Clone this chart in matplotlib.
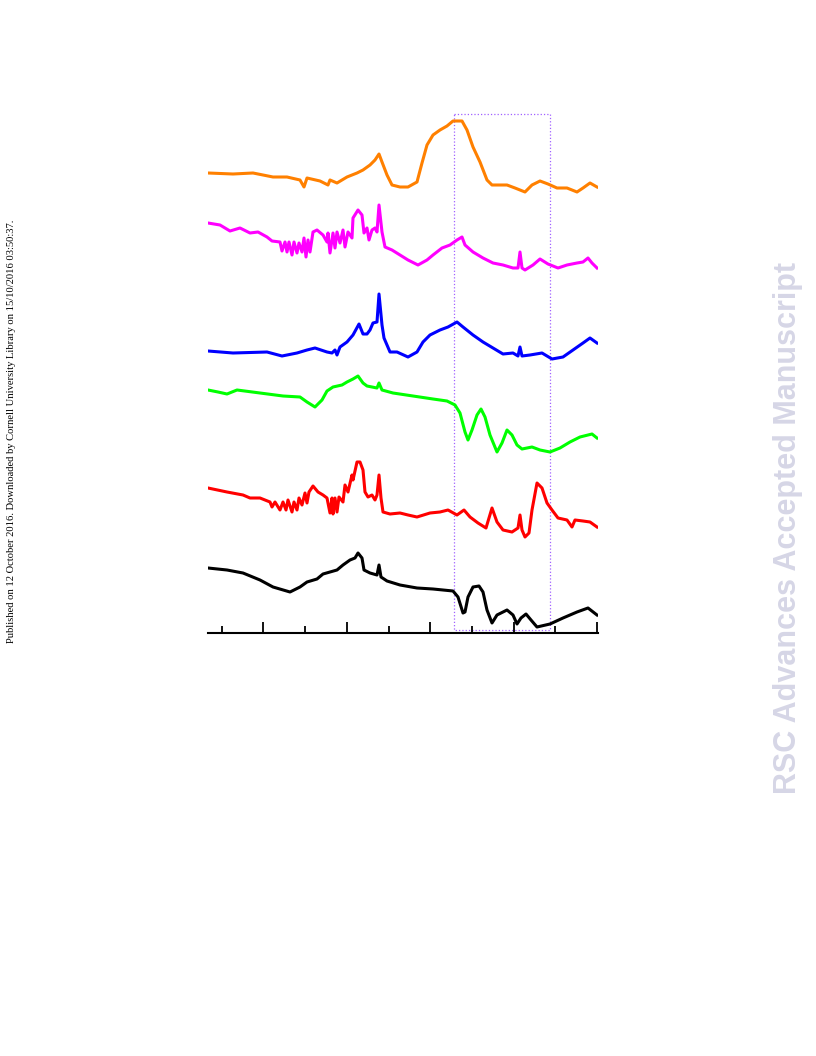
import matplotlib
matplotlib.use("Agg")
import matplotlib.pyplot as plt
from matplotlib.patches import Rectangle

orange = [(208,173),(233,174),(253,173),(273,177),(287,177),(300,180),(304,187),(307,178),(320,181),(328,185),(330,180),(337,183),(347,177),(357,173),(363,170),(370,165),(375,160),(379,154),(382,162),(387,175),(392,185),(400,187),(408,187),(417,182),(422,163),(427,145),(433,135),(440,130),(447,126),(453,121),(462,121),(467,130),(473,147),(480,162),(487,180),(492,185),(500,185),(507,185),(515,188),(525,192),(532,185),(540,181),(548,184),(557,188),(567,188),(577,192),(583,188),(590,183),(597,187)]
magenta = [(208,223),(220,225),(230,231),(240,228),(250,233),(258,232),(267,237),(272,241),(280,242),(282,251),(285,242),(287,252),(289,242),(292,255),(294,242),(297,253),(299,243),(302,252),(304,238),(306,257),(308,240),(310,252),(313,232),(317,230),(323,235),(327,242),(328,233),(330,253),(333,233),(335,248),(337,232),(340,243),(343,230),(345,247),(348,232),(352,238),(353,218),(358,210),(362,215),(364,233),(367,228),(369,240),(372,230),(375,228),(377,232),(379,205),(382,232),(385,247),(392,250),(400,255),(408,260),(418,265),(427,260),(433,255),(442,248),(450,245),(457,240),(462,237),(465,245),(473,252),(483,258),(493,263),(503,265),(513,268),(518,268),(520,252),(522,268),(525,270),(533,265),(540,259),(548,264),(558,268),(567,265),(577,263),(583,262),(588,258),(592,263),(597,268)]
blue = [(208,351),(233,353),(267,352),(282,356),(297,353),(307,350),(315,348),(327,352),(332,353),(335,350),(337,355),(340,347),(347,342),(353,335),(359,324),(363,334),(367,334),(370,330),(373,323),(377,322),(379,294),(382,325),(384,338),(390,352),(397,352),(408,357),(417,352),(423,342),(430,335),(440,330),(448,327),(457,322),(463,327),(473,335),(483,342),(493,348),(503,354),(513,353),(518,356),(520,347),(522,356),(530,355),(542,353),(552,359),(563,357),(573,350),(583,343),(590,338),(597,343)]
green = [(208,390),(218,392),(227,394),(237,390),(260,393),(283,396),(300,397),(307,402),(315,407),(322,400),(327,391),(333,387),(342,385),(347,382),(353,379),(358,376),(363,383),(367,386),(377,388),(379,383),(382,390),(393,393),(413,396),(433,399),(447,401),(455,405),(460,413),(465,432),(468,440),(472,430),(477,415),(481,409),(485,417),(490,435),(497,452),(502,443),(507,430),(512,435),(517,445),(522,449),(532,447),(540,450),(550,452),(560,448),(570,442),(580,437),(592,434),(597,438)]
red = [(208,488),(227,492),(243,495),(250,498),(260,498),(270,502),(272,507),(275,502),(280,510),(283,502),(286,510),(288,500),(292,512),(294,502),(297,510),(299,498),(302,505),(305,493),(307,503),(309,492),(313,486),(318,492),(323,495),(327,498),(330,513),(332,498),(333,514),(335,498),(337,512),(339,497),(343,502),(345,485),(348,492),(352,475),(353,480),(357,462),(360,462),(363,470),(365,492),(368,497),(372,495),(375,500),(377,495),(379,475),(381,498),(383,512),(390,514),(400,513),(408,515),(417,517),(430,513),(440,512),(448,510),(457,515),(464,510),(470,517),(478,523),(486,528),(492,508),(497,522),(503,530),(512,532),(518,528),(520,515),(522,530),(525,537),(529,533),(532,510),(537,483),(542,488),(547,503),(552,510),(558,518),(567,520),(572,527),(575,520),(583,521),(590,522),(597,527)]
black = [(208,568),(227,570),(243,573),(260,580),(273,587),(290,592),(300,587),(307,582),(317,579),(323,574),(330,572),(337,570),(343,565),(350,560),(355,558),(358,553),(362,558),(364,570),(370,573),(377,575),(379,565),(381,577),(387,581),(400,585),(417,588),(433,589),(453,591),(458,597),(463,613),(465,612),(468,597),(473,587),(479,586),(483,592),(487,610),(492,623),(497,615),(507,610),(513,615),(517,624),(521,618),(526,614),(531,620),(537,627),(550,624),(563,618),(577,612),(588,608),(597,615)]

series = [(orange, '#ff8000'), (magenta, '#ff00ff'), (blue, '#0000ff'),
          (green, '#00ff00'), (red, '#ff0000'), (black, '#000000')]
major_ticks = [263, 346.5, 430, 513.5, 597]
minor_ticks = [221.5, 305, 388.5, 471.5, 555]
box = (454, 114, 550, 630)

fig = plt.figure(figsize=(8.16, 10.56), dpi=100)
ax = fig.add_axes([208/816, (1056-633)/1056, 390/816, 533/1056])
for pts, c in series:
    ax.plot([p[0] for p in pts], [p[1] for p in pts], color=c, lw=2.2, solid_joinstyle='round')
ax.add_patch(Rectangle((box[0], box[1]), box[2]-box[0], box[3]-box[1], fill=False,
                       ec='#a060ff', ls=':', lw=0.9))
ax.set_xlim(208, 598)
ax.set_ylim(633, 100)
for s in ['top', 'left', 'right']:
    ax.spines[s].set_visible(False)
ax.spines['bottom'].set_linewidth(1.5)
ax.set_yticks([])
ax.set_xticks(major_ticks)
ax.set_xticks(minor_ticks, minor=True)
ax.tick_params(axis='x', which='major', direction='in', length=8, width=1.3, labelbottom=False)
ax.tick_params(axis='x', which='minor', direction='in', length=5, width=1.3)

fig.text(12/816, 1-431/1056, "Published on 12 October 2016. Downloaded by Cornell University Library on 15/10/2016 03:50:37.",
         rotation=90, ha='center', va='center', fontsize=7.6, family='Liberation Serif')
fig.text(788/816, 1-528/1056, "RSC Advances Accepted Manuscript", rotation=90, ha='center', va='center',
         fontsize=22, fontweight='bold', family='Liberation Sans', color='#d6d6e6')
fig.savefig('out.png', dpi=100)
